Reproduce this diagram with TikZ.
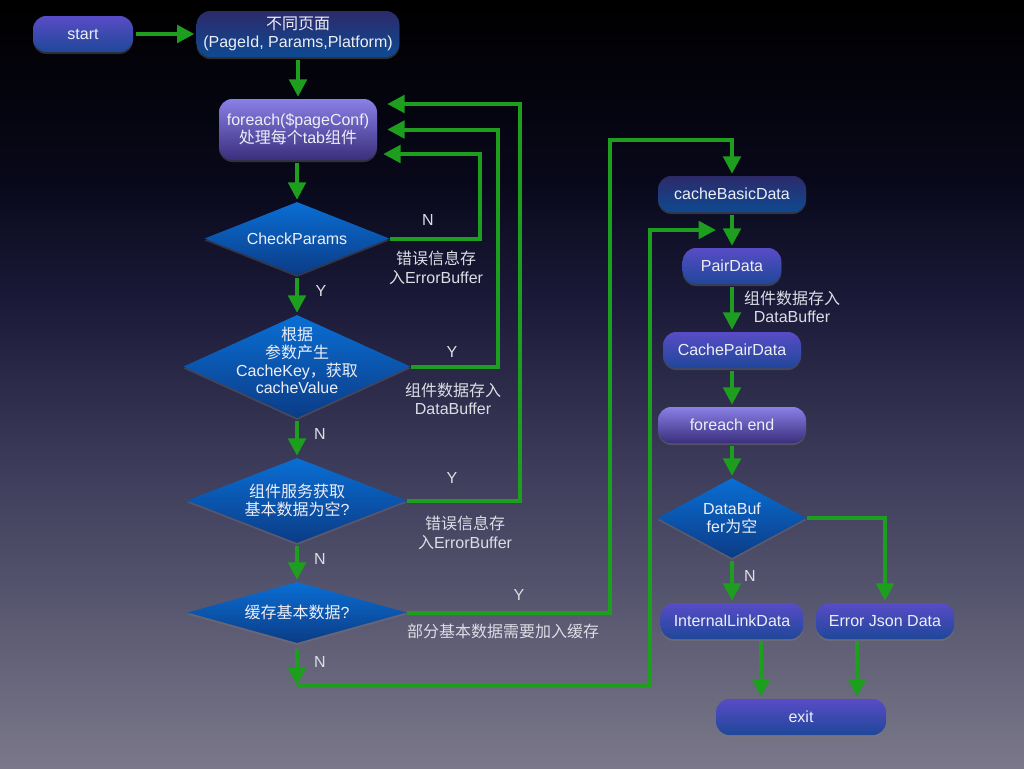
\documentclass[tikz,border=0pt]{standalone}
\usepackage{fontspec}
\setmainfont{Liberation Sans}
\newfontfamily\cjk{Noto Sans CJK SC}
\newcommand\zh[1]{{\cjk #1}}
\usetikzlibrary{shapes.geometric,arrows.meta,calc,shadows}
\definecolor{bgA}{HTML}{7A7889}
\definecolor{bgB}{HTML}{57566F}
\definecolor{bgC}{HTML}{393857}
\definecolor{bgD}{HTML}{1A1A38}
\definecolor{bgE}{HTML}{08081A}
\definecolor{bbT}{HTML}{584CC6}
\definecolor{bbB}{HTML}{1F4799}
\definecolor{nbT}{HTML}{2C2A6A}
\definecolor{nbB}{HTML}{0E4A92}
\definecolor{lbT}{HTML}{8A80E6}
\definecolor{lbB}{HTML}{3A2E7C}
\definecolor{dT}{HTML}{0A6ED4}
\definecolor{dB}{HTML}{0B3C86}
\definecolor{grn}{HTML}{1E9E1E}
\definecolor{txt}{HTML}{EEEEF6}
\definecolor{lblc}{HTML}{DDDDE6}
\pgfdeclareverticalshading{bgshade}{100bp}{color(0bp)=(bgA); color(25bp)=(bgA); color(35.9bp)=(bgB); color(45.7bp)=(bgC); color(55.5bp)=(bgD); color(63.3bp)=(bgE); color(75bp)=(black); color(100bp)=(black)}
\tikzset{
  box/.style={rectangle, rounded corners=10pt, draw=none, text=txt,
    font=\fontsize{12}{13.5}\selectfont, align=center, inner sep=0pt,
    drop shadow={opacity=0.35, shadow xshift=0pt, shadow yshift=-1.5pt}},
  bluebox/.style={box, top color=bbT, bottom color=bbB},
  navybox/.style={box, top color=nbT, bottom color=nbB},
  lavbox/.style={box, top color=lbT, bottom color=lbB},
  dia/.style={diamond, draw=none, top color=dT, bottom color=dB, inner sep=0pt,
    drop shadow={opacity=0.3, shadow xshift=0pt, shadow yshift=-1.5pt}},
  dtext/.style={text=txt, font=\fontsize{12}{13.3}\selectfont, align=center, inner sep=0pt},
  wire/.style={draw=grn, line width=3pt},
  arr/.style={wire, -{Triangle[length=13pt,width=13pt]}, shorten <=2pt, shorten >=1.5pt},
  lbl/.style={text=lblc, font=\fontsize{12}{14}\selectfont, align=center, inner sep=0pt},
}
\begin{document}
\begin{tikzpicture}[x=0.75pt,y=-0.75pt]
\useasboundingbox (0,0) rectangle (1024,768);
\fill[shading=bgshade] (0,0) rectangle (1024,768);

% left column
\node[bluebox, minimum width=75pt, minimum height=27pt] (start) at (83,34) {start};
\node[navybox, minimum width=152pt, minimum height=34.5pt] (page) at (298,34) {\zh{不同页面}\\(PageId, Params,Platform)};
\node[lavbox, minimum width=118.5pt, minimum height=45.75pt] (fe) at (298,129.5) {foreach(\$pageConf)\\\zh{处理每个}tab\zh{组件}};
\node[dia, minimum width=138.75pt, minimum height=54.75pt, label={[dtext]center:CheckParams}] (chk) at (297,238.5) {};
\node[dia, minimum width=170.25pt, minimum height=77.25pt, label={[dtext, yshift=4.5pt]center:\zh{根据}\\\zh{参数产生}\\CacheKey\zh{，获取}\\cacheValue}] (key) at (297,366.5) {};
\node[dia, minimum width=165pt, minimum height=63.75pt, label={[dtext]center:\zh{组件服务获取}\\\zh{基本数据为空}?}] (svc) at (297,500.5) {};
\node[dia, minimum width=164.25pt, minimum height=45.75pt, label={[dtext]center:\zh{缓存基本数据}?}] (cache) at (297,612.5) {};

% right column
\node[navybox, minimum width=111pt, minimum height=27pt] (cbd) at (732,194) {cacheBasicData};
\node[bluebox, minimum width=74pt, minimum height=27pt] (pair) at (732,266) {PairData};
\node[bluebox, minimum width=103.5pt, minimum height=27pt] (cpd) at (732,350) {CachePairData};
\node[lavbox, minimum width=111pt, minimum height=27pt] (fend) at (732,425) {foreach end};
\node[dia, minimum width=111.75pt, minimum height=60pt, label={[dtext]center:DataBuf\\fer\zh{为空}}] (dbe) at (732,518) {};
\node[bluebox, minimum width=107pt, minimum height=27pt] (ild) at (732,621) {InternalLinkData};
\node[bluebox, minimum width=103.5pt, minimum height=27pt] (ejd) at (885,621) {Error Json Data};
\node[bluebox, minimum width=127.5pt, minimum height=27pt] (exit) at (801,717) {exit};

\coordinate (jn) at (716,230);

% connectors, left
\draw[arr] (start) -- (page);
\draw[arr] (page) -- (page |- fe.north);
\draw[arr] (fe.south -| chk) -- (chk.north);
\draw[arr] (chk) -- (key);
\draw[arr] (key) -- (svc);
\draw[arr] (svc) -- (cache);
\draw[arr, shorten <=0pt] (chk.east) -- ++(90,0) |- ($(fe.east)+(4,24.5)$);
\draw[arr, shorten <=0pt] (key.east) -- ++(87.5,0) |- ($(fe.east)+(8,0)$);
\draw[arr, shorten <=0pt] (svc.east) -- ++(113,0) |- ($(fe.east)+(8,-25.5)$);
\draw[arr, shorten <=0pt] (cache.east) -- ++(203.5,0) |- ($(cbd.north)+(0,-36)$) -- (cbd.north);
\draw[arr, shorten <=4pt, shorten >=0pt] (cache.south) -- ++(0,42) coordinate (nb);
\draw[arr, shorten <=0pt, shorten >=0pt] (nb) -- ++(353,0) |- (jn);

% connectors, right
\draw[arr] (cbd) -- (pair);
\draw[arr] (pair) -- (cpd);
\draw[arr] (cpd) -- (fend);
\draw[arr] (fend) -- (dbe);
\draw[arr, shorten <=0pt] (dbe.east) -| (ejd.north);
\draw[arr] (dbe) -- (ild);
\draw[arr, shorten <=1pt] ([xshift=21.75pt]ild.south) -- ([xshift=21.75pt]ild.south |- exit.north);
\draw[arr, shorten <=1pt] ([xshift=-21pt]ejd.south) -- ([xshift=-21pt]ejd.south |- exit.north);

% labels
\node[lbl] (l1) at (428,220) {N};
\node[lbl] (l2) at (436,268) {\zh{错误信息存}\\\zh{入}ErrorBuffer};
\node[lbl] (l3) at (452,352) {Y};
\node[lbl] (l4) at (453,399) {\zh{组件数据存入}\\DataBuffer};
\node[lbl] (l5) at (452,478) {Y};
\node[lbl] (l6) at (465,533) {\zh{错误信息存}\\\zh{入}ErrorBuffer};
\node[lbl] (l7) at (321,291) {Y};
\node[lbl] (l8) at (320,434) {N};
\node[lbl] (l9) at (320,559) {N};
\node[lbl] (l10) at (320,662) {N};
\node[lbl] (l11) at (519,595) {Y};
\node[lbl] (l12) at (503,631) {\zh{部分基本数据需要加入缓存}};
\node[lbl] (l13) at (792,307) {\zh{组件数据存入}\\DataBuffer};
\node[lbl] (l14) at (750,576) {N};
\end{tikzpicture}
\end{document}
